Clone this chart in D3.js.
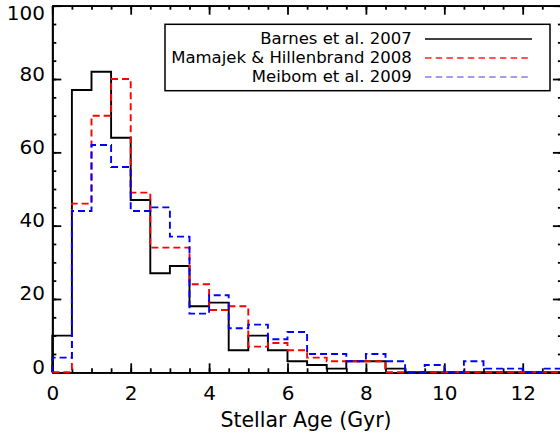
<!DOCTYPE html>
<html>
<head>
<meta charset="utf-8">
<script src="https://cdn.jsdelivr.net/npm/d3@7"></script>
<style>
  body { margin: 0; background: #fff; }
  text { font-family: "DejaVu Sans", sans-serif; fill: #000; }
  .axis path, .axis line { stroke: #000; stroke-width: 1.8; }
</style>
</head>
<body>
<svg id="chart" width="560" height="438"></svg>
<script>
// histogram bins: 0.5 Gyr wide, 0 .. 13 Gyr
let binWidth = 0.5;
let barnes  = [10,77,82,64,47,27,29,18,19,6,10,6,3,2,1,3,3,1,0,0,0,0,0,0,0,0];
let mamajek = [0,46,70,80,49,34,34,24,17,18,7,8,6,4,3,3,3,0,0,0,0,0,0,0,0,0];
let meibom  = [4,44,62,56,44,45,37,16,21,12,13,9,11,5,5,3,5,3,0,2,0,3,1,1,0,1];

let seriesNames = ['Barnes et al. 2007', 'Mamajek & Hillenbrand 2008', 'Meibom et al. 2009'];
let xTicks = [0,2,4,6,8,10,12];
let yTicks = [0,20,40,60,80,100];

let svg = d3.select('#chart');
let margin = {top: 5.7, left: 52.3, bottom: 372.3, right: 561.9};

let x = d3.scaleLinear().domain([0,13]).range([margin.left, margin.right]);
let y = d3.scaleLinear().domain([0,100]).range([margin.bottom, margin.top]);

let minorX = d3.range(0, 13.01, 0.5);
let minorY = d3.range(0, 100.1, 5);

// bottom axis
svg.append('g').attr('class','axis')
  .attr('transform','translate(0,' + margin.bottom + ')')
  .call(d3.axisBottom(x).tickValues(minorX).tickSizeInner(-4).tickSizeOuter(0).tickFormat(''));
let bx = svg.append('g').attr('class','axis')
  .attr('transform','translate(0,' + margin.bottom + ')')
  .call(d3.axisBottom(x).tickValues(xTicks).tickSizeInner(-9).tickSizeOuter(0).tickPadding(13.5));
bx.selectAll('text').style('font-size','20px').style('font-family','"DejaVu Sans", sans-serif');

// top axis
svg.append('g').attr('class','axis')
  .attr('transform','translate(0,' + margin.top + ')')
  .call(d3.axisTop(x).tickValues(minorX).tickSizeInner(-4).tickSizeOuter(0).tickFormat(''));
svg.append('g').attr('class','axis')
  .attr('transform','translate(0,' + margin.top + ')')
  .call(d3.axisTop(x).tickValues(xTicks).tickSizeInner(-9).tickSizeOuter(0).tickFormat(''));

// left axis
svg.append('g').attr('class','axis')
  .attr('transform','translate(' + margin.left + ',0)')
  .call(d3.axisLeft(y).tickValues(minorY).tickSizeInner(-4).tickSizeOuter(0).tickFormat(''));
let ly = svg.append('g').attr('class','axis')
  .attr('transform','translate(' + margin.left + ',0)')
  .call(d3.axisLeft(y).tickValues(yTicks).tickSizeInner(-9).tickSizeOuter(0).tickPadding(7.3));
ly.selectAll('text')
  .style('font-size','20px').style('font-family','"DejaVu Sans", sans-serif')
  .attr('dy', null)
  .attr('y', function(d) { return Math.max(y(d) - 6, 12) - y(d) + 7; });

// right axis
svg.append('g').attr('class','axis')
  .attr('transform','translate(' + margin.right + ',0)')
  .call(d3.axisRight(y).tickValues(minorY).tickSizeInner(-4).tickSizeOuter(0).tickFormat(''));
svg.append('g').attr('class','axis')
  .attr('transform','translate(' + margin.right + ',0)')
  .call(d3.axisRight(y).tickValues(yTicks).tickSizeInner(-9).tickSizeOuter(0).tickFormat(''));

// x title
svg.append('text')
  .attr('x', 306).attr('y', 427)
  .attr('text-anchor','middle')
  .style('font-size','20.5px')
  .text('Stellar Age (Gyr)');

// histograms
let line = d3.line()
  .x(function(d) { return x(d[0]); })
  .y(function(d) { return y(d[1]); })
  .curve(d3.curveStepAfter);

function steps(values) {
  let pts = [[0,0]];
  values.forEach(function(v,i) { pts.push([i*binWidth, v]); });
  pts.push([values.length*binWidth, 0]);
  return pts;
}

let series = [
  {values: barnes,  color: '#000000', dash: null,  legendColor: '#000000'},
  {values: mamajek, color: '#ff0000', dash: '7,4', legendColor: '#ff2020'},
  {values: meibom,  color: '#0000ff', dash: '7,4', legendColor: '#8080e6'}
];

series.forEach(function(s) {
  svg.append('path')
    .attr('d', line(steps(s.values)))
    .attr('fill','none')
    .attr('stroke', s.color)
    .attr('stroke-width', 1.9)
    .attr('stroke-dasharray', s.dash);
});

// legend
let legend = svg.append('g');
legend.append('rect')
  .attr('x',165).attr('y',24.3).attr('width',385).attr('height',66.4)
  .attr('fill','#fff').attr('stroke','#000').attr('stroke-width',1.5);

series.forEach(function(s,i) {
  legend.append('text')
    .attr('x', 411.7).attr('y', 44.3 + i*19)
    .attr('text-anchor','end')
    .style('font-size','16.5px')
    .text(seriesNames[i]);
  legend.append('line')
    .attr('x1', 425).attr('x2', 532)
    .attr('y1', 39 + i*19).attr('y2', 39 + i*19)
    .attr('stroke', s.legendColor)
    .attr('stroke-width', 1.5)
    .attr('stroke-dasharray', s.dash ? '6.5,4.2' : null);
});
</script>
</body>
</html>
